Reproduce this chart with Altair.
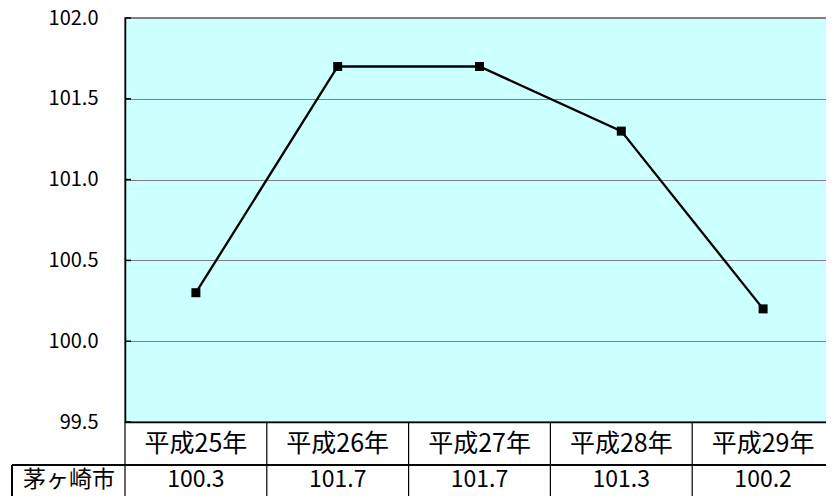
import altair as alt
import pandas as pd

categories = ["平成25年", "平成26年", "平成27年", "平成28年", "平成29年"]
values = [100.3, 101.7, 101.7, 101.3, 100.2]
row_label = "茅ヶ崎市"
y_ticks = [99.5, 100.0, 100.5, 101.0, 101.5, 102.0]

FONT = "Noto Sans CJK JP"
W, H = 709, 404

df = pd.DataFrame({"cat": categories, "val": values})
df["txt"] = [f"{v:.1f}" for v in values]
ticks_df = pd.DataFrame({"t": y_ticks})

xenc = alt.X(
    "cat:N",
    sort=categories,
    scale=alt.Scale(paddingInner=0, paddingOuter=0),
    axis=alt.Axis(
        title=None, labelAngle=0, labelFontSize=25, labelFont=FONT, labelColor="black",
        ticks=False, domainColor="black", domainWidth=1.5, labelPadding=9, grid=False,
    ),
)
yscale = alt.Scale(domain=[99.5, 102.0], nice=False, zero=False)
yenc = alt.Y(
    "val:Q",
    scale=yscale,
    axis=alt.Axis(
        title=None, values=y_ticks, format=".1f", labelFontSize=20, labelFont=FONT,
        labelColor="black", ticks=False, domainColor="black", domainWidth=1.5,
        labelPadding=27, gridColor="#808080", gridWidth=1,
    ),
)

base = alt.Chart(df)

line = base.mark_line(color="black", strokeWidth=2.3).encode(x=xenc, y=yenc)
pts = base.mark_square(color="black", size=81, opacity=1).encode(x=xenc, y=yenc)

inner_ticks = alt.Chart(ticks_df).mark_rule(color="black", strokeWidth=1.5).encode(
    y=alt.Y("t:Q", scale=yscale), x=alt.value(0), x2=alt.value(6)
)

dividers = base.mark_rule(color="black", strokeWidth=1.2, clip=False).encode(
    x=alt.X("cat:N", sort=categories, bandPosition=0), y=alt.value(H), y2=alt.value(H + 82)
)

row_line = base.mark_rule(color="black", strokeWidth=1.2, clip=False).encode(
    x=alt.value(-113), x2=alt.value(W), y=alt.value(H + 43)
)
label_left = base.mark_rule(color="black", strokeWidth=1.2, clip=False).encode(
    x=alt.value(-113), y=alt.value(H + 43), y2=alt.value(H + 82)
)

value_text = base.mark_text(font=FONT, fontSize=23, color="black", baseline="middle", clip=False).encode(
    x=alt.X("cat:N", sort=categories), y=alt.value(H + 58), text="txt:N"
)
label_text = alt.Chart(pd.DataFrame({"lab": [row_label]})).mark_text(
    font=FONT, fontSize=23, color="black", baseline="middle", align="center", clip=False
).encode(x=alt.value(-56), y=alt.value(H + 58), text="lab:N")

chart = alt.layer(
    line, pts, inner_ticks, dividers, row_line, label_left, value_text, label_text
).properties(
    width=W, height=H,
    autosize=alt.AutoSizeParams(type="none"),
    padding={"left": 117, "top": 10, "right": -8, "bottom": 74},
).configure(
    background="white"
).configure_view(
    fill="#CCFFFF", stroke="#808080", strokeWidth=2
)

chart.save("out.html", embed_options={"renderer": "svg", "actions": False})
